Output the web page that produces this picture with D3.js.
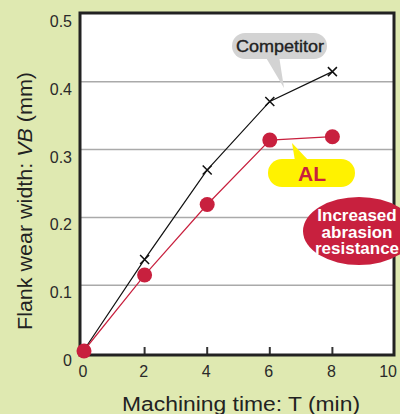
<!DOCTYPE html>
<html lang="en">
<head>
    <meta charset="UTF-8">
    <title>Flank wear</title>
    <script src="https://cdn.jsdelivr.net/npm/d3@7"></script>
    <style>
        body { margin: 0; background: #dfe9b1; }
        text { font-family: "Liberation Sans", Arial, Helvetica, sans-serif; }
        .tick-label { font-size: 16px; fill: #2a2a2a; }
        .axis-title { font-size: 20px; fill: #222; }
    </style>
</head>
<body>
<div id="chart"></div>
<script>
    const width = 400;
    const height = 414;

    // data
    const times = [0, 2, 4, 6, 8];
    const competitor = [0, 0.138, 0.27, 0.371, 0.415];
    const al = [0, 0.115, 0.219, 0.314, 0.319];
    const xTicks = [0, 2, 4, 6, 8, 10];
    const yTicks = [0, 0.1, 0.2, 0.3, 0.4, 0.5];
    const yTickLabels = ["0", "0.1", "0.2", "0.3", "0.4", "0.5"];
    const calloutLines = ["Increased", "abrasion", "resistance"];

    const RED = "#c8203e";

    const svg = d3.select("#chart")
        .append("svg")
        .attr("width", width)
        .attr("height", height);

    svg.append("rect")
        .attr("width", width)
        .attr("height", height)
        .attr("fill", "#dfe9b1");

    const x = d3.scaleLinear().domain([0, 10]).range([82, 395]);
    const y = d3.scaleLinear().domain([0, 0.5]).range([353, 14]);

    // plot area
    svg.append("rect")
        .attr("x", 80).attr("y", 13)
        .attr("width", 314).attr("height", 342)
        .attr("fill", "#fff");

    // grid
    svg.selectAll("line.grid")
        .data(yTicks.slice(1, 5))
        .enter().append("line")
        .attr("class", "grid")
        .attr("x1", 80).attr("x2", 394)
        .attr("y1", d => y(d)).attr("y2", d => y(d))
        .attr("stroke", "#aaa")
        .attr("stroke-width", 1.5);

    // inner x ticks
    svg.selectAll("line.xtick")
        .data(xTicks.slice(1, 5))
        .enter().append("line")
        .attr("class", "xtick")
        .attr("x1", d => x(d)).attr("x2", d => x(d))
        .attr("y1", 347).attr("y2", 355)
        .attr("stroke", "#333")
        .attr("stroke-width", 2);

    // tick labels
    svg.selectAll("text.ylab")
        .data(yTicks)
        .enter().append("text")
        .attr("class", "tick-label ylab")
        .attr("x", 72)
        .attr("y", d => y(d) + 13)
        .attr("text-anchor", "end")
        .text((d, i) => yTickLabels[i]);

    svg.selectAll("text.xlab")
        .data(xTicks)
        .enter().append("text")
        .attr("class", "tick-label xlab")
        .attr("x", d => d === 10 ? 397 : x(d) + (d === 0 ? 1 : -1))
        .attr("y", 377)
        .attr("text-anchor", d => d === 10 ? "end" : "middle")
        .text(d => d);

    // frame
    svg.append("path")
        .attr("d", "M80,355 V13 H394 V355 Z")
        .attr("fill", "none")
        .attr("stroke", "#222")
        .attr("stroke-width", 3);

    const line = d3.line()
        .x((d, i) => x(times[i]))
        .y(d => y(d));

    // competitor
    svg.append("path")
        .attr("d", line(competitor))
        .attr("fill", "none")
        .attr("stroke", "#111")
        .attr("stroke-width", 1.2);

    svg.selectAll("path.cross")
        .data(competitor.slice(1))
        .enter().append("path")
        .attr("class", "cross")
        .attr("transform", (d, i) => "translate(" + x(times[i + 1]) + "," + y(d) + ")")
        .attr("d", "M-4.5,-4.5 L4.5,4.5 M-4.5,4.5 L4.5,-4.5")
        .attr("stroke", "#111")
        .attr("stroke-width", 1.5);

    // AL
    svg.append("path")
        .attr("d", line(al))
        .attr("fill", "none")
        .attr("stroke", RED)
        .attr("stroke-width", 1.2);

    svg.selectAll("circle.al")
        .data(al)
        .enter().append("circle")
        .attr("class", "al")
        .attr("cx", (d, i) => x(times[i]) + (i === 0 ? 2 : 0))
        .attr("cy", (d, i) => y(d) - (i === 0 ? 2 : 0))
        .attr("r", 7.5)
        .attr("fill", RED);

    // competitor callout
    const cg = svg.append("g");
    cg.append("path")
        .attr("d", "M265,56 L279,56 L284,88 Z")
        .attr("fill", "#d3d3d3");
    cg.append("rect")
        .attr("x", 232).attr("y", 33)
        .attr("width", 95).attr("height", 26)
        .attr("rx", 13)
        .attr("fill", "#d3d3d3");
    cg.append("text")
        .attr("x", 280).attr("y", 52)
        .attr("text-anchor", "middle")
        .attr("font-size", 16)
        .attr("fill", "#222")
        .attr("stroke", "#222")
        .attr("stroke-width", 0.35)
        .attr("textLength", 88)
        .attr("lengthAdjust", "spacingAndGlyphs")
        .text("Competitor");

    // AL callout
    const ag = svg.append("g");
    ag.append("path")
        .attr("d", "M295,161 L309,161 L292,143 Z")
        .attr("fill", "#fff200");
    ag.append("rect")
        .attr("x", 268).attr("y", 159)
        .attr("width", 87).attr("height", 28)
        .attr("rx", 14)
        .attr("fill", "#fff200");
    ag.append("text")
        .attr("x", 312).attr("y", 181)
        .attr("text-anchor", "middle")
        .attr("font-size", 21)
        .attr("font-weight", "bold")
        .attr("fill", RED)
        .text("AL");

    // abrasion callout
    const rg = svg.append("g");
    rg.append("ellipse")
        .attr("cx", 359).attr("cy", 231)
        .attr("rx", 56).attr("ry", 34)
        .attr("fill", RED);
    rg.selectAll("text")
        .data(calloutLines)
        .enter().append("text")
        .attr("x", 357)
        .attr("y", (d, i) => 221 + i * 16.5)
        .attr("text-anchor", "middle")
        .attr("font-size", 17)
        .attr("font-weight", "bold")
        .attr("fill", "#fff")
        .text(d => d);

    // axis titles
    svg.append("text")
        .attr("class", "axis-title")
        .attr("x", 241).attr("y", 411)
        .attr("text-anchor", "middle")
        .attr("textLength", 238)
        .attr("lengthAdjust", "spacingAndGlyphs")
        .text("Machining time: T (min)");

    const yt = svg.append("text")
        .attr("class", "axis-title")
        .attr("transform", "translate(32,201) rotate(-90)")
        .attr("text-anchor", "middle")
        .attr("textLength", 258)
        .attr("lengthAdjust", "spacingAndGlyphs");
    yt.append("tspan").text("Flank wear width: ");
    yt.append("tspan").attr("font-style", "italic").text("VB");
    yt.append("tspan").text(" (mm)");
</script>
</body>
</html>
